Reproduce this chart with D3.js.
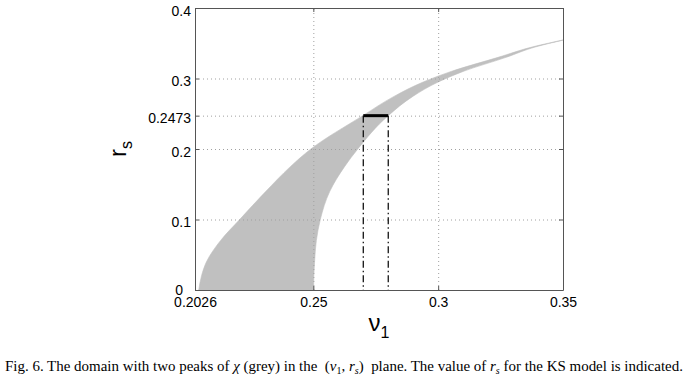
<!DOCTYPE html>
<html>
<head>
<meta charset="utf-8">
<script src="https://cdn.jsdelivr.net/npm/d3@7"></script>
<style>
  body { margin: 0; background: #fff; }
  svg { display: block; }
</style>
</head>
<body>
<script>
// grey region: for each r_s, the nu_1 range where chi has two peaks
const rsLevels = [0, 0.02, 0.04, 0.07, 0.10, 0.14, 0.175, 0.20, 0.2473, 0.275, 0.295, 0.31, 0.33, 0.345, 0.355];
const nuLeft   = [0.2041, 0.2052, 0.2072, 0.2128, 0.2205, 0.2310, 0.2408, 0.2490, 0.2698, 0.2825, 0.2940, 0.3052, 0.3240, 0.3380, 0.3505];
const nuRight  = [0.2501, 0.2502, 0.2505, 0.2512, 0.2528, 0.2566, 0.2625, 0.2678, 0.2800, 0.2900, 0.3000, 0.3100, 0.3272, 0.3392, 0.3507];

// KS model marker
const ksRs = 0.2473;
const ksNu = [0.27, 0.28];

const xTicks = [0.2026, 0.25, 0.3, 0.35];
const yTicks = [0, 0.1, 0.2, 0.2473, 0.3, 0.4];

const width = 689, height = 382;
const margin = { left: 195, top: 8, right: 126, bottom: 92 };
const innerWidth = width - margin.left - margin.right;
const innerHeight = height - margin.top - margin.bottom;

const svg = d3.select('body').append('svg')
  .attr('width', width)
  .attr('height', height);

const g = svg.append('g')
  .attr('transform', `translate(${margin.left},${margin.top})`);

const x = d3.scaleLinear().domain([0.2026, 0.35]).range([0, innerWidth]);
const y = d3.scaleLinear().domain([0, 0.4]).range([innerHeight, 0]);

g.append('clipPath').attr('id', 'plotclip')
  .append('rect').attr('width', innerWidth).attr('height', innerHeight);

// grey domain
const region = rsLevels.map((r, i) => ({ r: r, lo: nuLeft[i], hi: nuRight[i] }));
g.append('path')
  .datum(region)
  .attr('clip-path', 'url(#plotclip)')
  .attr('fill', '#c0c0c0')
  .attr('stroke', '#c0c0c0')
  .attr('stroke-width', 0.6)
  .attr('d', d3.area()
    .y(d => y(d.r))
    .x0(d => x(d.lo))
    .x1(d => x(d.hi))
    .curve(d3.curveMonotoneY));

// dotted grid
const gridX = g.append('g')
  .attr('transform', `translate(0,${innerHeight})`)
  .call(d3.axisBottom(x).tickValues(xTicks.slice(1, -1)).tickSize(-innerHeight).tickFormat(''));
const gridY = g.append('g')
  .call(d3.axisLeft(y).tickValues(yTicks.slice(1, -1)).tickSize(-innerWidth).tickFormat(''));
[gridX, gridY].forEach(grid => {
  grid.select('.domain').remove();
  grid.selectAll('text').remove();
  grid.selectAll('line')
    .attr('stroke', '#a0a0a0')
    .attr('stroke-width', 1)
    .attr('stroke-dasharray', '1,3');
});

// KS model: dash-dot verticals and thick bar
g.append('g')
  .selectAll('line')
  .data(ksNu)
  .join('line')
  .attr('x1', d => x(d)).attr('x2', d => x(d))
  .attr('y1', y(ksRs)).attr('y2', y(0))
  .attr('stroke', '#000')
  .attr('stroke-width', 1.2)
  .attr('stroke-dasharray', '7,3,1.5,3');

g.append('line')
  .attr('x1', x(ksNu[0])).attr('x2', x(ksNu[1]))
  .attr('y1', y(ksRs)).attr('y2', y(ksRs))
  .attr('stroke', '#000')
  .attr('stroke-width', 3);

// axes, MATLAB style with inner ticks
const tickFont = 'Liberation Sans, Arial, Helvetica, sans-serif';
function styleAxis(sel) {
  sel.select('.domain').attr('stroke', '#555');
  sel.selectAll('.tick line').attr('stroke', '#555');
  sel.selectAll('text')
    .attr('fill', '#000')
    .style('font-family', tickFont)
    .style('font-size', '14px');
}

g.append('g')
  .attr('transform', `translate(0,${innerHeight})`)
  .call(d3.axisBottom(x).tickValues(xTicks).tickSizeInner(-4).tickSizeOuter(0).tickPadding(7).tickFormat(d => String(d)))
  .call(styleAxis);

g.append('g')
  .call(d3.axisLeft(y).tickValues(yTicks).tickSizeInner(-4).tickSizeOuter(0).tickPadding(4).tickFormat(d => String(d)))
  .call(styleAxis)
  .selectAll('text')
  .attr('dy', d => d === 0 ? '0.35em' : '0.5em')
  .attr('dx', d => d === 0 ? -8 : 0);

g.append('g')
  .call(d3.axisTop(x).tickValues(xTicks).tickSizeInner(-4).tickSizeOuter(0).tickFormat(''))
  .call(styleAxis)
  .selectAll('text').remove();

g.append('g')
  .attr('transform', `translate(${innerWidth},0)`)
  .call(d3.axisRight(y).tickValues(yTicks).tickSizeInner(-4).tickSizeOuter(0).tickFormat(''))
  .call(styleAxis)
  .selectAll('text').remove();

// axis titles
const xTitle = svg.append('text')
  .attr('x', margin.left + innerWidth / 2)
  .attr('y', 331)
  .attr('text-anchor', 'middle')
  .style('font-family', tickFont)
  .style('font-size', '24px');
xTitle.append('tspan').text('ν');
xTitle.append('tspan').attr('dy', 7).style('font-size', '16px').text('1');

const yTitle = svg.append('text')
  .attr('transform', `translate(126,${margin.top + innerHeight / 2}) rotate(-90)`)
  .attr('text-anchor', 'middle')
  .style('font-family', tickFont)
  .style('font-size', '24px');
yTitle.append('tspan').text('r');
yTitle.append('tspan').attr('dy', 6).style('font-size', '16px').text('s');

// caption
const caption = svg.append('text')
  .attr('x', 5)
  .attr('y', 371)
  .attr('xml:space', 'preserve')
  .style('font-family', 'Liberation Serif, Times New Roman, serif')
  .style('font-size', '15px');
const parts = [
  ['Fig. 6. The domain with two peaks of ', 'n'],
  ['χ', 'i'],
  [' (grey) in the  (', 'n'],
  ['ν', 'i'],
  ['1', 's'],
  [', ', 'n'],
  ['r', 'i'],
  ['s', 'si'],
  [')  plane. The value of ', 'n'],
  ['r', 'i'],
  ['s', 'si'],
  [' for the KS model is indicated.', 'n']
];
let lowered = false;
parts.forEach(([t, kind]) => {
  const sp = caption.append('tspan').text(t).style('white-space', 'pre');
  const isSub = kind === 's' || kind === 'si';
  if (kind === 'i' || kind === 'si') sp.style('font-style', 'italic');
  if (isSub) sp.style('font-size', '10px');
  if (isSub && !lowered) { sp.attr('dy', 3); lowered = true; }
  else if (!isSub && lowered) { sp.attr('dy', -3); lowered = false; }
});
// stretch caption to the width it has in the figure
const capLen = caption.node().getComputedTextLength();
const target = 678;
caption.style('font-size', (15 * target / capLen).toFixed(2) + 'px');
caption.selectAll('tspan').filter((d, i) => parts[i][1] === 's' || parts[i][1] === 'si')
  .style('font-size', (10 * target / capLen).toFixed(2) + 'px');
</script>
</body>
</html>
